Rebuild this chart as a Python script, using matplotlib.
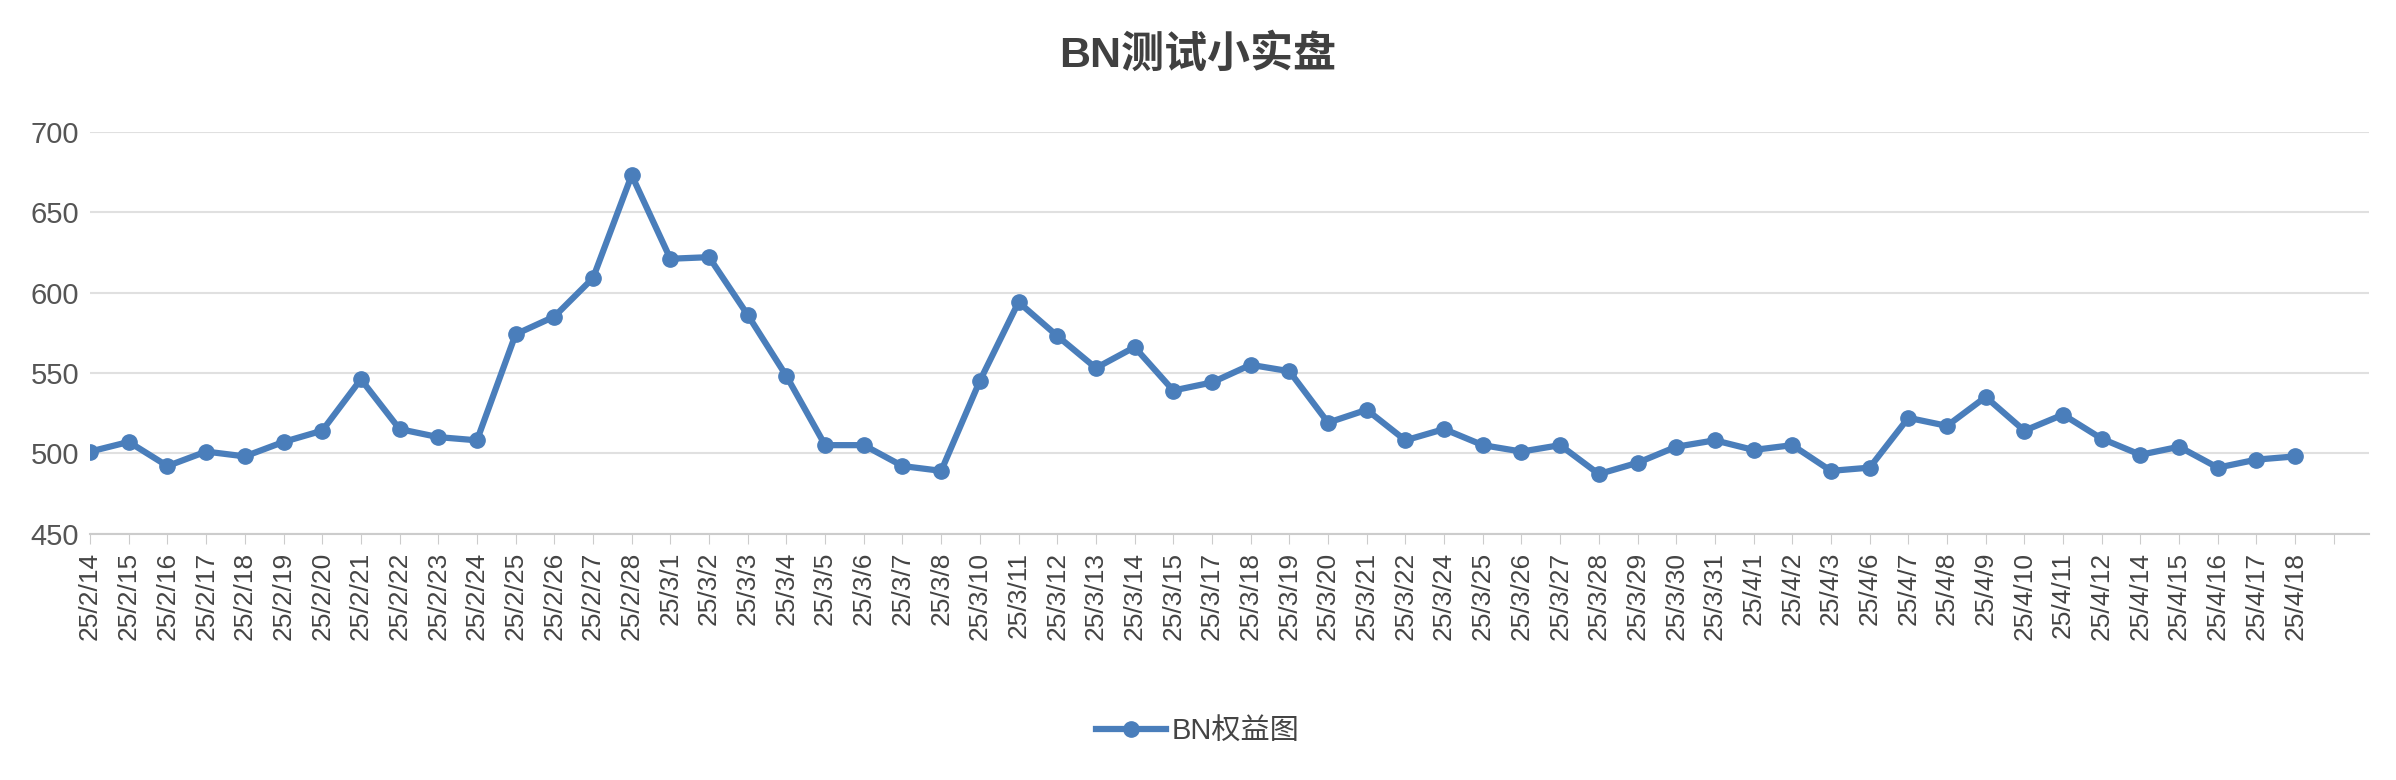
import matplotlib
matplotlib.use("Agg")
import matplotlib.pyplot as plt
from matplotlib.lines import Line2D

plt.rcParams['font.family'] = ['Liberation Sans', 'Noto Sans CJK SC', 'DejaVu Sans']

dates = ["25/2/14","25/2/15","25/2/16","25/2/17","25/2/18","25/2/19","25/2/20","25/2/21","25/2/22","25/2/23",
         "25/2/24","25/2/25","25/2/26","25/2/27","25/2/28","25/3/1","25/3/2","25/3/3","25/3/4","25/3/5",
         "25/3/6","25/3/7","25/3/8","25/3/10","25/3/11","25/3/12","25/3/13","25/3/14","25/3/15","25/3/17",
         "25/3/18","25/3/19","25/3/20","25/3/21","25/3/22","25/3/24","25/3/25","25/3/26","25/3/27","25/3/28",
         "25/3/29","25/3/30","25/3/31","25/4/1","25/4/2","25/4/3","25/4/6","25/4/7","25/4/8","25/4/9",
         "25/4/10","25/4/11","25/4/12","25/4/14","25/4/15","25/4/16","25/4/17","25/4/18"]
values = [501,507,492,501,498,507,514,546,515,510,
          508,574,585,609,673,621,622,586,548,505,
          505,492,489,545,594,573,553,566,539,544,
          555,551,519,527,508,515,505,501,505,487,
          494,504,508,502,505,489,491,522,517,535,
          514,524,509,499,504,491,496,498]
yticks = [450, 500, 550, 600, 650, 700]

color = "#4a7ebb"
fig = plt.figure(figsize=(23.96, 7.80), dpi=100)
ax = fig.add_axes([0.0376, 0.316, 0.951, 0.515])
x = list(range(len(values)))
ax.plot(x, values, color=color, lw=4.5, marker='o', ms=11, zorder=3)
ax.set_xlim(0, len(values) - 1 + 1.9)
ax.set_ylim(450, 700)
ax.set_yticks(yticks)
ax.set_xticks(range(len(values) + 1))
ax.set_xticklabels(dates + [""], rotation=90, fontsize=19, color="#444444")
ax.tick_params(axis='y', labelsize=21, colors="#555555", length=0, pad=8)
ax.tick_params(axis='x', length=7, color="#cccccc", pad=6)
ax.grid(axis='y', color="#e0e0e0", lw=1.5)
for s in ['top', 'right', 'left']:
    ax.spines[s].set_visible(False)
ax.spines['bottom'].set_color("#cccccc")
ax.spines['bottom'].set_linewidth(1.5)
ax.set_axisbelow(True)

fig.text(0.5, 0.93, "BN测试小实盘", ha='center', va='center', fontsize=31, fontweight='bold', color="#404040")
h = Line2D([], [], color=color, lw=4.5, marker='o', ms=11)
fig.legend([h], ["BN权益图"], loc='center', bbox_to_anchor=(0.5, 0.063), frameon=False,
           fontsize=21, labelcolor="#444444", handlelength=2.4, handletextpad=0.2)
fig.savefig("out.png", dpi=100, facecolor='white')
